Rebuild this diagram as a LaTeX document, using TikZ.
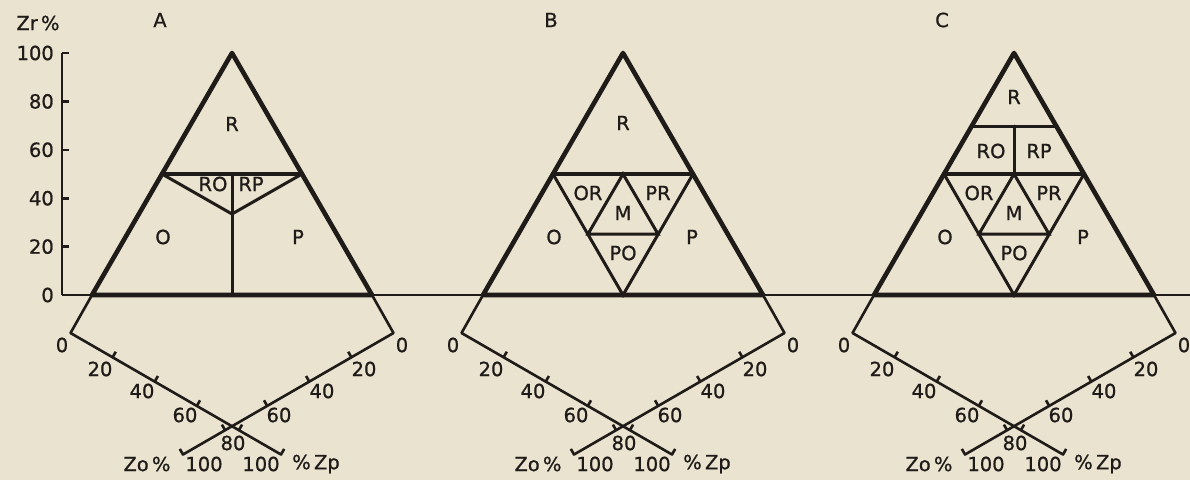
\documentclass[tikz,border=0pt]{standalone}
\usepackage{fontspec}
\setmainfont{DejaVu Sans}[FakeBold=0.8]
\usetikzlibrary{calc}
\definecolor{paper}{RGB}{234,227,208}
\definecolor{ink}{RGB}{30,27,24}
\tikzset{
  tri/.style={line width=4.6pt, line join=round, line cap=round, draw=ink},
  innerline/.style={line width=3pt, line cap=round, draw=ink},
  axisline/.style={line width=2.6pt, line join=round, draw=ink},
  baseline/.style={line width=1.8pt, draw=ink},
  lbl/.style={font=\fontsize{19.5}{20}\selectfont, text=ink, inner sep=0pt},
}
% common frame of one panel: triangle, lower axes, labels
\newcommand\panelframe[2]{%
  \coordinate (#1top) at (0,53);
  \coordinate (#1bl) at (-140,295);
  \coordinate (#1br) at (140,295);
  \coordinate (#1ml) at (-70,174);
  \coordinate (#1mr) at (70,174);
  \coordinate (#1mc) at (0,174);
  \coordinate (#1L0) at (-161.5,333);
  \coordinate (#1L100) at (49,454.5);
  \coordinate (#1R0) at (161.5,333);
  \coordinate (#1R100) at (-49,454.5);
  \draw[tri] (#1top) -- (#1bl) -- (#1br) -- cycle;
  \draw[tri] (#1ml) -- (#1mr);
  \draw[axisline] (#1bl) -- (#1L0) -- (#1L100) -- ++(3.2,-5.6);
  \draw[axisline] (#1br) -- (#1R0) -- (#1R100) -- ++(-3.2,-5.6);
  \foreach \k in {0.2,0.4,0.6,0.8}{
    \draw[axisline] ($(#1L0)!\k!(#1L100)$) -- ++(3.2,-5.6);
    \draw[axisline] ($(#1R0)!\k!(#1R100)$) -- ++(-3.2,-5.6);
  }
  \node[lbl] (#1title) at (-72,20) {#2};
  \node[lbl] (#1l0) at (-170,345) {0};
  \node[lbl] (#1l20) at (-132,369) {20};
  \node[lbl] (#1l40) at (-90,391) {40};
  \node[lbl] (#1l60) at (-47,415) {60};
  \node[lbl] (#1r0) at (170,345) {0};
  \node[lbl] (#1r20) at (132,369) {20};
  \node[lbl] (#1r40) at (90,391) {40};
  \node[lbl] (#1r60) at (47,415) {60};
  \node[lbl] (#1l80) at (1,443) {80};
  \node[lbl] (#1zo) at (-85,464) {Zo\,\%};
  \node[lbl] (#1c100) at (-28,464) {100};
  \node[lbl] (#1d100) at (29,464) {100};
  \node[lbl] (#1zp) at (84,464) {\%\,Zp};
}
% inner triangle with M (panels B and C)
\newcommand\innerM[1]{%
  \coordinate (#1ib) at (0,295);
  \coordinate (#1ql) at (-35,234);
  \coordinate (#1qr) at (35,234);
  \draw[innerline] (#1ml) -- (#1ib) -- (#1mr);
  \draw[innerline] (#1mc) -- (#1ql) -- (#1qr) -- cycle;
  \node[lbl] (#1OR) at (-35,193) {OR};
  \node[lbl] (#1PR) at (35,193) {PR};
  \node[lbl] (#1M) at (0,213) {M};
  \node[lbl] (#1PO) at (0,253) {PO};
  \node[lbl] (#1O) at (-69,237) {O};
  \node[lbl] (#1P) at (69,237) {P};
}
\begin{document}
\begin{tikzpicture}[x=1pt,y=-1pt]
  \fill[paper] (0,0) rectangle (1190,480);
  \useasboundingbox (0,0) rectangle (1190,480);
  % vertical Zr axis and common base line
  \coordinate (ytop) at (62,53);
  \coordinate (yorig) at (62,295);
  \coordinate (bend) at (1190,295);
  \draw[axisline] (ytop) -- (yorig);
  \draw[baseline] (yorig) -- (bend);
  \foreach \v/\yy in {100/53,80/101.4,60/149.8,40/198.2,20/246.6}{
    \draw[axisline] (62,\yy) -- (69,\yy);
    \node[lbl, anchor=east] (y\v) at (54,\yy) {\v};
  }
  \node[lbl, anchor=east] (y0) at (54,295) {0};
  \node[lbl] (zr) at (38,23) {Zr\,\%};
  % ---------- panel A ----------
  \begin{scope}[xshift=232pt]
    \panelframe{a}{A}
    \coordinate (acg) at (0,214);
    \draw[innerline] (aml) -- (acg) -- (amr);
    \draw[innerline] (amc) -- (acg) -- (0,295);
    \node[lbl] (aR) at (0,124) {R};
    \node[lbl] (aRO) at (-19,184) {RO};
    \node[lbl] (aRP) at (19,184) {RP};
    \node[lbl] (aO) at (-69,237) {O};
    \node[lbl] (aP) at (66,237) {P};
  \end{scope}
  % ---------- panel B ----------
  \begin{scope}[xshift=623pt]
    \panelframe{b}{B}
    \innerM{b}
    \node[lbl] (bR) at (0,123) {R};
  \end{scope}
  % ---------- panel C ----------
  \begin{scope}[xshift=1014pt]
    \panelframe{c}{C}
    \innerM{c}
    \coordinate (ctl) at (-42.2,126);
    \coordinate (ctr) at (42.2,126);
    \coordinate (ctc) at (0,126);
    \draw[innerline] (ctl) -- (ctr);
    \draw[innerline] (ctc) -- (cmc);
    \node[lbl] (cR) at (0,97) {R};
    \node[lbl] (cRO) at (-23,151) {RO};
    \node[lbl] (cRP) at (25,151) {RP};
  \end{scope}
\end{tikzpicture}
\end{document}
